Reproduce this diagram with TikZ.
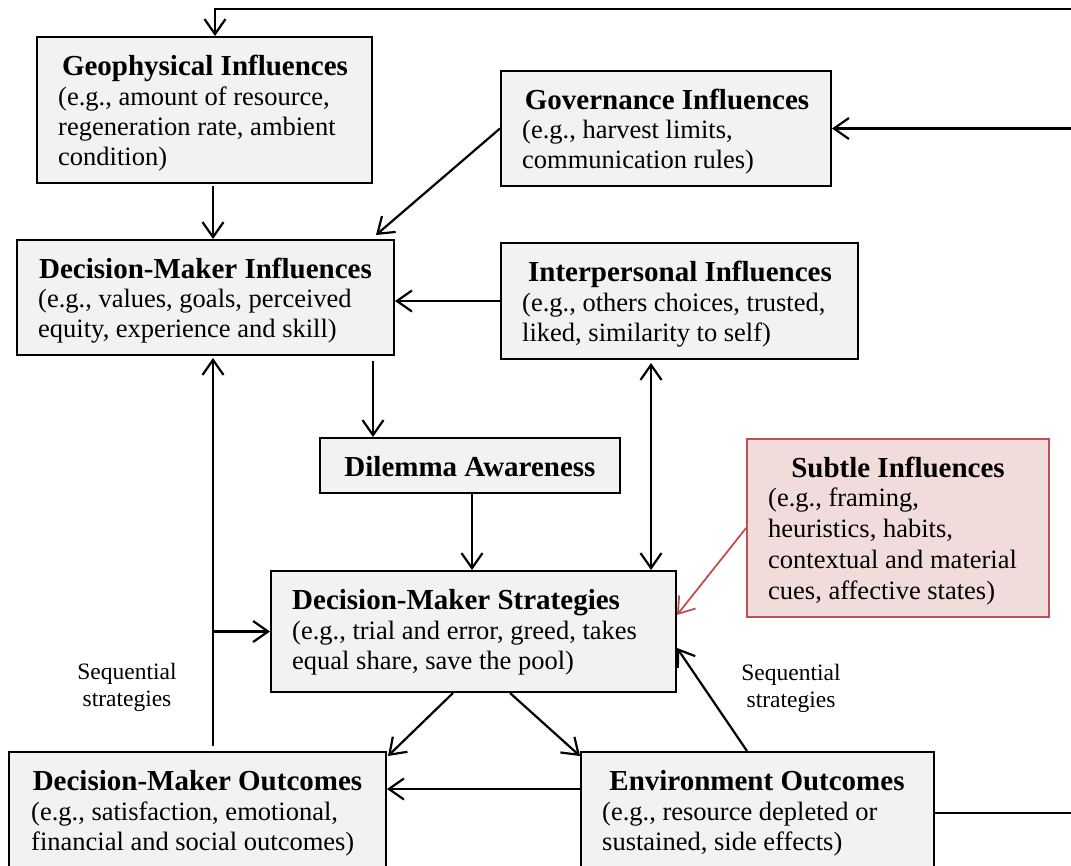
\documentclass[tikz,border=0pt]{standalone}
\usepackage{fontspec}
\setmainfont{Liberation Serif}
\usetikzlibrary{arrows.meta}
\definecolor{boxgray}{HTML}{F2F2F2}
\definecolor{subfill}{HTML}{F2DCDB}
\definecolor{subline}{HTML}{C0504D}
\begin{document}
\begin{tikzpicture}[x=1pt,y=-1pt,
 box/.style={draw=black, line width=2pt, fill=boxgray, inner sep=0pt},
 ttl/.style={font=\fontsize{29}{33}\selectfont\bfseries, inner sep=0pt, anchor=base},
 bdy/.style={font=\fontsize{26.5}{30}\selectfont, inner sep=0pt, anchor=base west, align=left},
 seq/.style={font=\fontsize{23.5}{27}\selectfont, inner sep=0pt, anchor=base, align=center},
 arr/.style={line width=2.2pt, -{Straight Barb[length=15pt,width=21pt,line width=2.2pt]}},
 darr/.style={line width=2.2pt, {Straight Barb[length=15pt,width=21pt,line width=2.2pt]}-{Straight Barb[length=15pt,width=21pt,line width=2.2pt]}},
 rarr/.style={line width=1.8pt, draw=subline, -{Straight Barb[length=15pt,width=21pt,line width=1.8pt]}},
 ln/.style={line width=2.2pt},
 ]
\useasboundingbox (0,0) rectangle (1071,865);
\clip (0,0) rectangle (1071,865);

% boxes
\node[box, minimum width=335pt, minimum height=146pt] (geo) at (204.5,110) {};
\node[box, minimum width=330pt, minimum height=115pt] (gov) at (666,128.5) {};
\node[box, minimum width=377pt, minimum height=115pt] (dmi) at (205.5,297.5) {};
\node[box, minimum width=357pt, minimum height=116pt] (ip) at (679.5,301) {};
\node[box, minimum width=300pt, minimum height=55pt] (dil) at (470,465.5) {};
\node[box, draw=subline, fill=subfill, line width=1.8pt, minimum width=302pt, minimum height=178pt] (sub) at (898,528) {};
\node[box, minimum width=405pt, minimum height=121pt] (dms) at (473.5,631.5) {};
\node[box, minimum width=377pt, minimum height=128pt] (dmo) at (197.5,816) {};
\node[box, minimum width=353pt, minimum height=128pt] (eo) at (757.5,816) {};

% texts (multi-line nodes: base = last line)
\node[ttl] (geoT) at (205,75) {Geophysical Influences};
\node[bdy] (geoB) at (58,165) {(e.g., amount of resource,\\regeneration rate, ambient\\condition)};
\node[ttl] (govT) at (667,109) {Governance Influences};
\node[bdy] (govB) at (522,168) {(e.g., harvest limits,\\communication rules)};
\node[ttl] (dmiT) at (205.5,278) {Decision-Maker Influences};
\node[bdy] (dmiB) at (38,337) {(e.g., values, goals, perceived\\equity, experience and skill)};
\node[ttl] (ipT) at (680,281) {Interpersonal Influences};
\node[bdy] (ipB) at (522,341) {(e.g., others choices, trusted,\\liked, similarity to self)};
\node[ttl] (dilT) at (470,476) {Dilemma Awareness};
\node[ttl] (subT) at (898,477) {Subtle Influences};
\node[bdy, font=\fontsize{26.5}{30.7}\selectfont] (subB) at (768,599) {(e.g., framing,\\heuristics, habits,\\contextual and material\\cues, affective states)};
\node[ttl, anchor=base west] (dmsT) at (292,609) {Decision-Maker Strategies};
\node[bdy] (dmsB) at (292,669) {(e.g., trial and error, greed, takes\\equal share, save the pool)};
\node[ttl] (dmoT) at (197.5,790) {Decision-Maker Outcomes};
\node[bdy] (dmoB) at (31,850) {(e.g., satisfaction, emotional,\\financial and social outcomes)};
\node[ttl] (eoT) at (757,790) {Environment Outcomes};
\node[bdy] (eoB) at (602,850) {(e.g., resource depleted or\\sustained, side effects)};

\node[seq] (seqL) at (127,706) {Sequential\\strategies};
\node[seq] (seqR) at (791,707) {Sequential\\strategies};

% free ends
\coordinate (topR) at (1085,9);
\coordinate (topC) at (215,9);
\coordinate (govR) at (1085,128.5);
\coordinate (eoR) at (1085,813);
\coordinate (branch) at (213,631.5);

% connectors
\draw[arr] (topR) -- (topC) -- (topC |- geo.north);
\draw[arr] ([xshift=8.5pt,yshift=-2pt]geo.south) -- ([xshift=8.5pt]geo.south |- dmi.north);
\draw[arr] (gov.west) -- ([xshift=-19pt,yshift=4pt]dmi.north east);
\draw[arr] (govR) -- (gov.east);
\draw[arr] (ip.west) -- (ip.west -| dmi.east);
\draw[arr] ([yshift=-5pt]373,0 |- dmi.south) -- (373,0 |- dil.north);
\draw[arr] ([xshift=2pt]dil.south) -- ([xshift=2pt]dil.south |- dms.north);
\draw[darr] ([yshift=-3pt]651,0 |- ip.south) -- (651,0 |- dms.north);
\draw[rarr] (sub.west) -- ([yshift=16.5pt]dms.east);
\draw[arr] ([xshift=-20.5pt]dms.south) -- ([xshift=1pt,yshift=-5pt]dmo.north east);
\draw[arr] ([xshift=36.5pt]dms.south) -- ([yshift=-5pt]eo.north west);
\draw[arr] (eo.west |- 0,789) -- (dmo.east |- 0,789);
\draw[arr] ([xshift=-10.5pt]eo.north) -- ([yshift=-16.5pt]dms.east);
\draw[arr] ([xshift=15.5pt,yshift=5pt]dmo.north) -- (branch) -- ([xshift=15.5pt,yshift=-2pt]dmo.north |- dmi.south);
\draw[arr] (branch) -- (dms.west);
\draw[ln] (eo.east |- 0,813) -- (eoR);
\end{tikzpicture}
\end{document}
